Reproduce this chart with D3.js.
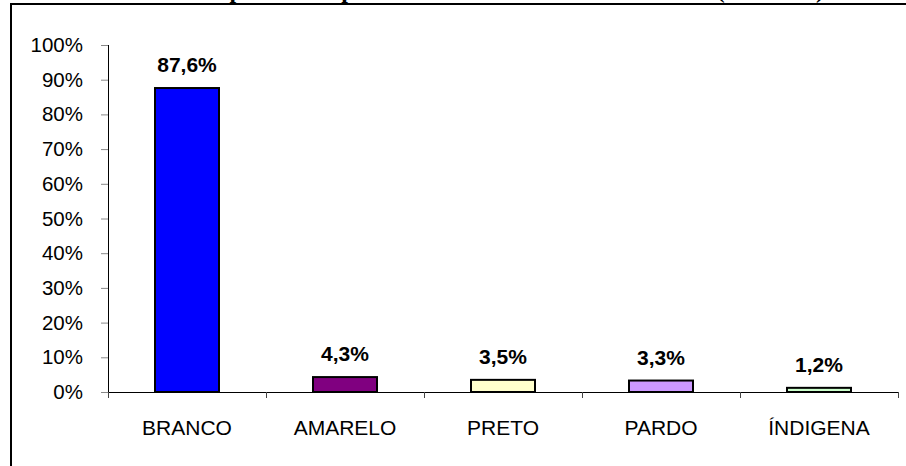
<!DOCTYPE html>
<html>
<head>
<meta charset="utf-8">
<script src="https://cdn.jsdelivr.net/npm/d3@7"></script>
<style>
  body { margin: 0; background: #fff; }
  svg { display: block; }
</style>
</head>
<body>
<div id="chart"></div>
<script>
// values
var categories = ["BRANCO", "AMARELO", "PRETO", "PARDO", "ÍNDIGENA"];
var values = [87.6, 4.3, 3.5, 3.3, 1.2];
var colors = ["#0000ff", "#800080", "#ffffcc", "#cc99ff", "#ccffcc"];
var yTicks = [0, 10, 20, 30, 40, 50, 60, 70, 80, 90, 100];
var titleText = "Alunos por cor da pele e etnia no total de matriculados (ano 2005)";

var width = 906;
var height = 466;
var plot = { left: 108, right: 898, top: 45, bottom: 392 };

var svg = d3.select("#chart").append("svg")
    .attr("width", width)
    .attr("height", height);

// title, mostly cut off above the frame
svg.append("text")
    .attr("x", 824).attr("y", -2)
    .attr("text-anchor", "end")
    .attr("font-family", "'Liberation Serif', 'Times New Roman', serif")
    .attr("font-weight", "bold").attr("font-size", "24px")
    .text(titleText);

// outer frame (left + top edges only visible)
svg.append("path")
    .attr("d", "M11,466 V4 H906")
    .attr("fill", "none").attr("stroke", "#000").attr("stroke-width", 2);

var x = d3.scaleBand()
    .domain(categories)
    .range([plot.left, plot.right]);

var y = d3.scaleLinear()
    .domain([0, 100])
    .range([plot.bottom, plot.top]);

var font = "'Liberation Sans', Arial, sans-serif";

// y axis
var yAxis = svg.append("g")
    .attr("transform", "translate(" + plot.left + ",0)")
    .call(d3.axisLeft(y).tickValues(yTicks).tickSize(7).tickPadding(18)
        .tickFormat(d => d + "%"));
yAxis.select(".domain").attr("stroke", "#000").attr("d", "M0.5," + plot.top + "V" + plot.bottom);
yAxis.selectAll(".tick line").attr("stroke", "#888");
yAxis.selectAll("text")
    .attr("font-family", font).attr("font-size", "20.5px").attr("fill", "#000");

// x axis with ticks at band boundaries
var xAxis = svg.append("g")
    .attr("transform", "translate(0," + plot.bottom + ")");
xAxis.append("line")
    .attr("x1", plot.left).attr("x2", plot.right)
    .attr("y1", 0.5).attr("y2", 0.5)
    .attr("stroke", "#000");
var bounds = categories.map(c => x(c)).concat([plot.right]);
xAxis.selectAll("line.tk")
    .data(bounds).enter().append("line")
    .attr("class", "tk")
    .attr("x1", d => Math.round(d) + 0.5).attr("x2", d => Math.round(d) + 0.5)
    .attr("y1", 0).attr("y2", 6)
    .attr("stroke", "#444");
xAxis.selectAll("text")
    .data(categories).enter().append("text")
    .attr("x", d => x(d) + x.bandwidth() / 2)
    .attr("y", 43)
    .attr("text-anchor", "middle")
    .attr("font-family", font).attr("font-size", "21px").attr("fill", "#000")
    .text(d => d);

// bars
var barWidth = 64;
svg.selectAll("rect.bar")
    .data(values).enter().append("rect")
    .attr("class", "bar")
    .attr("x", (d, i) => x(categories[i]) + (x.bandwidth() - barWidth) / 2)
    .attr("y", d => y(d))
    .attr("width", barWidth)
    .attr("height", d => plot.bottom - y(d))
    .attr("fill", (d, i) => colors[i])
    .attr("stroke", "#000").attr("stroke-width", 2);

// value labels
svg.selectAll("text.val")
    .data(values).enter().append("text")
    .attr("class", "val")
    .attr("x", (d, i) => x(categories[i]) + x.bandwidth() / 2)
    .attr("y", d => y(d) - 16)
    .attr("text-anchor", "middle")
    .attr("font-family", font).attr("font-weight", "bold").attr("font-size", "21px")
    .text(d => d.toFixed(1).replace(".", ",") + "%");
</script>
</body>
</html>
